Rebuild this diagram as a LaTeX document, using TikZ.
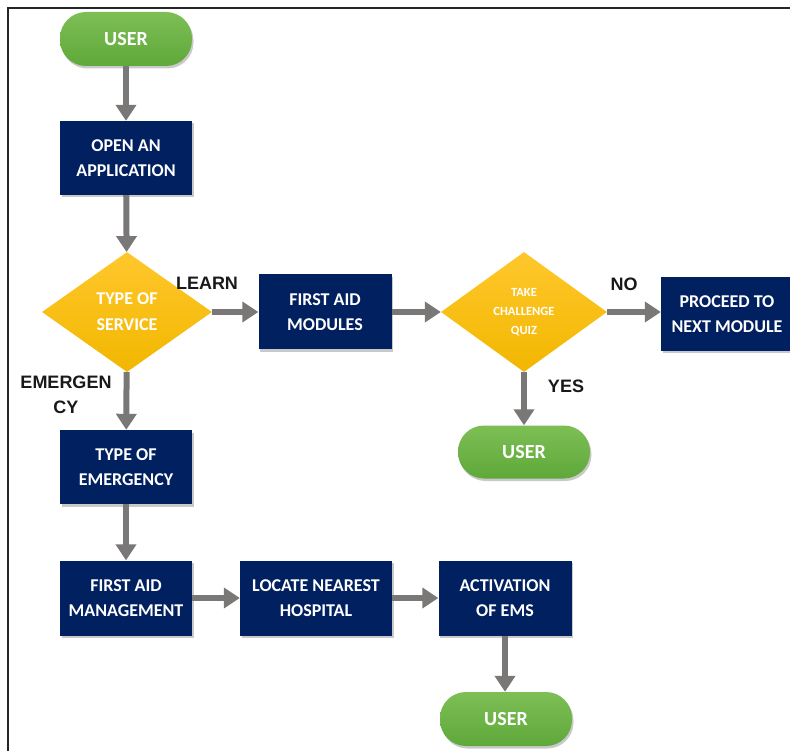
\documentclass[tikz,border=0pt]{standalone}
\usepackage{fontspec}
\setmainfont{Carlito}
\newfontfamily\labelfont{Liberation Sans}
\usetikzlibrary{arrows.meta}
\usetikzlibrary{shapes.geometric}
\usetikzlibrary{shadows}
\definecolor{navybox}{HTML}{002060}
\definecolor{greentop}{HTML}{7DBF55}
\definecolor{greenbot}{HTML}{5FA83A}
\definecolor{yellowtop}{HTML}{FFC72C}
\definecolor{yellowbot}{HTML}{F2B700}
\definecolor{arrowgray}{HTML}{7A7777}
\tikzset{
  boxshadow/.style={drop shadow={shadow xshift=1.5pt,shadow yshift=-2.5pt,opacity=0.3,fill=black!70}},
  process/.style={rectangle,fill=navybox,text=white,align=center,inner sep=2pt,
    minimum width=132pt,minimum height=74pt,boxshadow,
    font=\bfseries\fontsize{18}{25}\selectfont},
  terminal/.style={rectangle,rounded corners=26pt,top color=greentop,bottom color=greenbot,
    text=white,minimum width=132pt,minimum height=54pt,boxshadow,
    font=\bfseries\fontsize{20}{24}\selectfont},
  decision/.style={diamond,aspect=1.4,inner sep=0pt,top color=yellowtop,bottom color=yellowbot,
    text=white,align=center,minimum width=170pt,minimum height=120pt,
    font=\bfseries\fontsize{18}{26}\selectfont},
  answer/.style={text=black!90,align=center,font=\labelfont\bfseries\fontsize{18}{25}\selectfont},
  flow/.style={draw=arrowgray,line width=6pt,-{Triangle[width=20pt,length=16pt]}}
}

\begin{document}
\begin{tikzpicture}[x=1pt,y=-1pt]
        \clip (0,0) rectangle (790,751);
        \draw[black!85,line width=1.5pt] (8,751)--(8,8)--(790,8);
        % main column
        \node[terminal] (user1) at (126,39) {USER};
        \node[process] (open) at (126,158) {OPEN AN\\APPLICATION};
        \node[decision] (service) at (127,312) {TYPE OF\\SERVICE};
        \node[process] (emergency) at (126,467) {TYPE OF\\EMERGENCY};
        % learning branch
        \node[process,minimum width=133pt,minimum height=75pt] (modules) at (325,312) {FIRST AID\\MODULES};
        \node[decision,minimum width=166pt,font=\bfseries\fontsize{12.5}{19}\selectfont] (quiz) at (524,312) {TAKE\\CHALLENGE\\QUIZ};
        \node[process] (proceed) at (727,314) {PROCEED TO\\NEXT MODULE};
        \node[terminal,minimum height=53pt] (user2) at (524,452) {USER};
        % emergency branch
        \node[process,minimum height=75pt] (manage) at (126,598) {FIRST AID\\MANAGEMENT};
        \node[process,minimum width=152pt,minimum height=75pt] (locate) at (316,598) {LOCATE NEAREST\\HOSPITAL};
        \node[process,minimum width=133pt,minimum height=75pt] (ems) at (505,598) {ACTIVATION\\OF EMS};
        \node[terminal] (user3) at (506,719) {USER};
        % branch labels
        \node[answer] (learn) at (207,283) {LEARN};
        \node[answer] (emerg) at (66,395) {EMERGEN\\CY};
        \node[answer] (no) at (624,284) {NO};
        \node[answer] (yes) at (566,386) {YES};
        % connectors
        \draw[flow] (user1)--(open);
        \draw[flow] (open)--(service);
        \draw[flow] (service)--(modules);
        \draw[flow] (modules)--(quiz);
        \draw[flow] (quiz.east)--(quiz.east -| proceed.west);
        \draw[flow] (quiz)--(user2);
        \draw[flow] (service)--(emergency);
        \draw[flow] (emergency)--(manage);
        \draw[flow] (manage)--(locate);
        \draw[flow] (locate)--(ems);
        \draw[flow] (ems.south)--(ems.south |- user3.north);
    \end{tikzpicture}
\end{document}
